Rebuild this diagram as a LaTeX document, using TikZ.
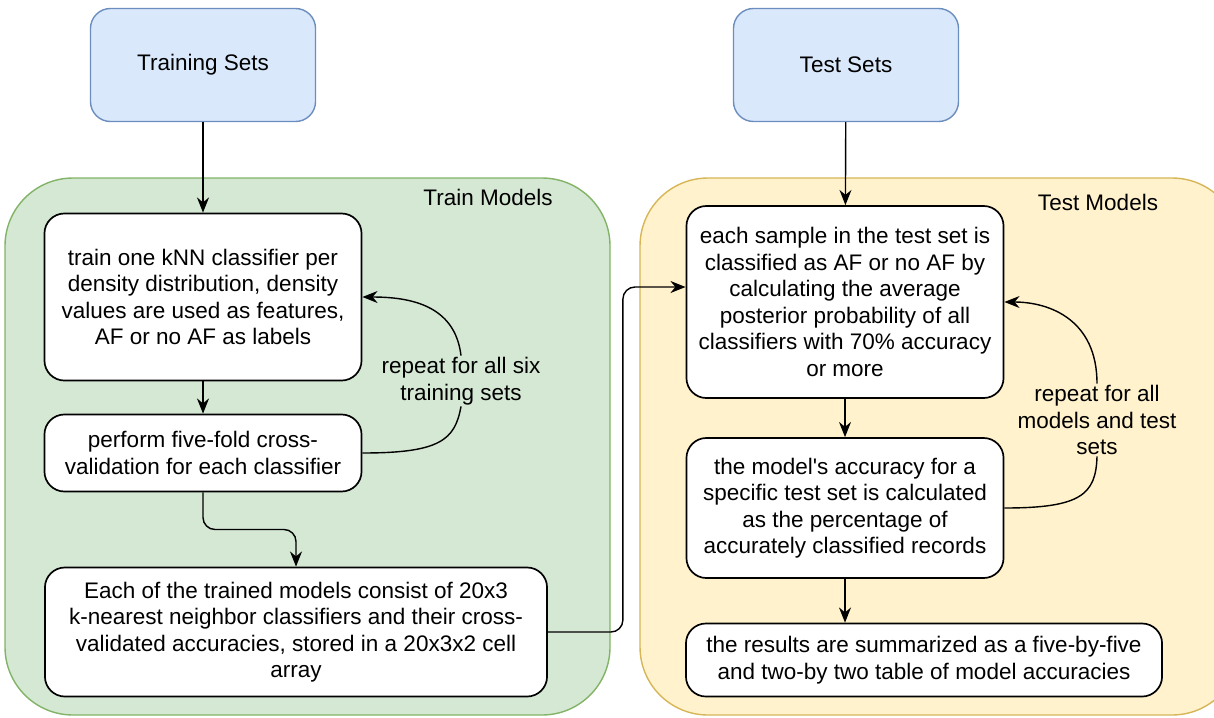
\documentclass[tikz,border=0pt]{standalone}
\usepackage{fontspec}
\setmainfont{Liberation Sans}
\usetikzlibrary{positioning, calc, arrows.meta}
\tikzset{>={Stealth[length=3.8mm, width=3mm]}}
\definecolor{setfill}{HTML}{DAE8FC}
\definecolor{setline}{HTML}{6C8EBF}
\definecolor{trainfill}{HTML}{D5E8D4}
\definecolor{trainline}{HTML}{82B366}
\definecolor{testfill}{HTML}{FFF2CC}
\definecolor{testline}{HTML}{D6B656}

\begin{document}
\begin{tikzpicture}
    [
        x=0.025cm, y=-0.025cm,
        font=\fontsize{16}{18.8}\selectfont,
        set_node/.style={rectangle, rounded corners=5mm, draw=setline, fill=setfill, line width=1pt, inner sep=0pt, minimum width=5.625cm, minimum height=2.825cm},
        step_node/.style={rectangle, rounded corners=5mm, draw=black, fill=white, line width=1.2pt, inner sep=0pt, align=center, minimum width=7.925cm},
        group_box/.style={rounded corners=17mm, line width=1pt},
        loop_label/.style={align=center, inner sep=1pt},
        flow/.style={->, line width=1pt},
    ]

  \useasboundingbox (0,0) rectangle (1214,717);

  % containers
  \draw[group_box, draw=trainline, fill=trainfill] (5,178) rectangle (610,715);
  \draw[group_box, draw=testline, fill=testfill] (640,178) rectangle (1240,715);
  \node (trainT) at (488,197) {Train Models};
  \node (testT) at (1098,202) {Test Models};

  % inputs
  \node[set_node] (trainSets) at (203,65) {Training Sets};
  \node[set_node] (testSets) at (846,65) {Test Sets};

  % train models
  \node[step_node, minimum height=4.175cm] (train1) at (203,297)
    {train one kNN classifier per\\density distribution, density\\values are used as features,\\AF or no AF as labels};
  \node[step_node, minimum height=1.925cm] (train2) at (203,453)
    {perform five-fold cross-\\validation for each classifier};
  \node[step_node, minimum width=12.55cm, minimum height=3.225cm] (train3) at (296,632)
    {Each of the trained models consist of 20x3\\k-nearest neighbor classifiers and their cross-\\validated accuracies, stored in a 20x3x2 cell\\array};
  \node[loop_label] (trainRep) at (461,381) {repeat for all six\\training sets};

  % test models
  \node[step_node, minimum height=4.8cm] (test1) at (845,302)
    {each sample in the test set is\\classified as AF or no AF by\\calculating the average\\posterior probability of all\\classifiers with 70\% accuracy\\or more};
  \node[step_node, minimum height=3.5cm] (test2) at (845,508)
    {the model\textquotesingle s accuracy for a\\specific test set is calculated\\as the percentage of\\accurately classified records};
  \node[step_node, minimum width=11.9cm, minimum height=1.825cm] (test3) at (924,660)
    {the results are summarized as a five-by-five\\and two-by two table of model accuracies};
  \node[loop_label] (testRep) at (1097,420) {repeat for all\\models and test\\sets};

  % arrows
  \draw[flow] (trainSets) -- (train1);
  \draw[flow] (testSets) -- (test1);
  \draw[flow] (train1) -- (train2);
  \draw[flow, rounded corners=3mm] (train2.south) |- ($(train2.south)!0.5!(train3.north)$) -| (train3.north);
  \draw[flow, rounded corners=3mm] (train3.east) -- ++(75,0) |- ([yshift=3.75mm]test1.west);
  \draw[flow] (test1) -- (test2);
  \draw[flow] (test2.south) -- (test2.south |- test3.north);

  % loops
  \draw[line width=1pt] (train2.east) .. controls (440,453) and (455,440) .. (trainRep.south);
  \draw[flow] (trainRep.north) .. controls (455,305) and (410,297) .. (train1.east);
  \draw[line width=1pt] (test2.east) .. controls (1080,508) and (1096,495) .. (testRep.south);
  \draw[flow] (testRep.north) .. controls (1097,320) and (1050,302) .. (test1.east);
\end{tikzpicture}
\end{document}
